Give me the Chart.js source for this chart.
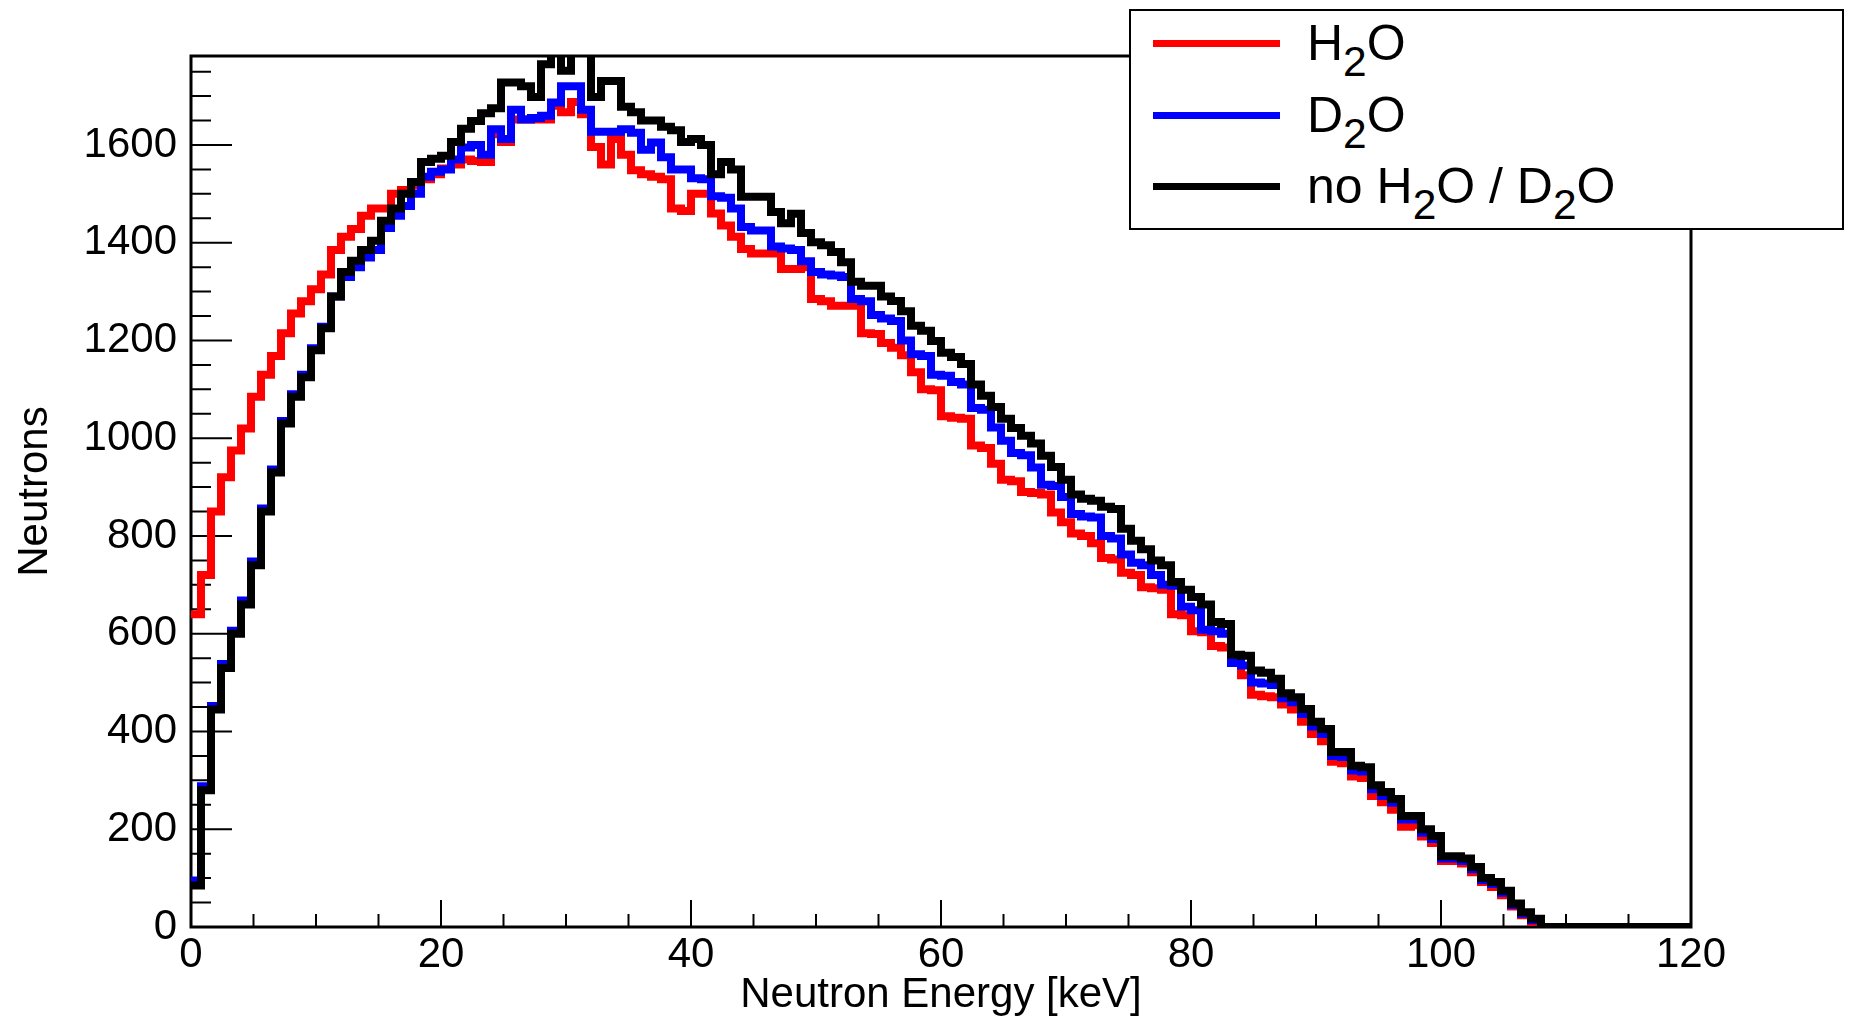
<!DOCTYPE html>
<html>
<head>
<meta charset="utf-8">
<title>Neutron energy spectrum</title>
<script src="https://cdn.jsdelivr.net/npm/chart.js@4.4.1/dist/chart.umd.min.js"></script>
<style>
  html, body { margin: 0; padding: 0; background: #fff; }
  #wrap { position: relative; width: 1854px; height: 1030px; }
  #chart { position: absolute; left: 0; top: 0; }
  #legend {
    position: absolute; left: 1129px; top: 9px; width: 711px; height: 217px;
    border: 2px solid #000; background: #fff;
    font-family: 'Liberation Sans', Arial, sans-serif; font-size: 50px; color: #000;
  }
  .swatch { position: absolute; left: 22px; width: 127px; height: 7px; }
  .label { position: absolute; left: 176px; white-space: nowrap; line-height: 50px; }
  .label sub { font-size: 0.85em; vertical-align: -16px; line-height: 0; }
</style>
</head>
<body>
<div id="wrap">
  <canvas id="chart" width="1854" height="1030"></canvas>
  <div id="legend">
    <div class="swatch" style="top:29px;background:#ff0000"></div>
    <div class="label" style="top:7px">H<sub>2</sub>O</div>
    <div class="swatch" style="top:101px;background:#0000ff"></div>
    <div class="label" style="top:79px">D<sub>2</sub>O</div>
    <div class="swatch" style="top:172px;background:#000000"></div>
    <div class="label" style="top:150px">no H<sub>2</sub>O / D<sub>2</sub>O</div>
  </div>
</div>
<script>
// histogram bins: 0.8 keV wide, starting at 0 keV
const BIN_WIDTH = 0.8;
const X_MAX = 120;
const Y_MAX = 1782;

const xTicks = [0, 20, 40, 60, 80, 100, 120];
const yTicks = [0, 200, 400, 600, 800, 1000, 1200, 1400, 1600];

const seriesNames = ['H2O', 'D2O', 'no H2O / D2O'];

const h2o = [
  640, 720, 850, 920, 975, 1020, 1085, 1130, 1168, 1215,
  1255, 1280, 1305, 1335, 1385, 1412, 1428, 1455, 1470, 1470,
  1500, 1508, 1517, 1530, 1540, 1552, 1560, 1570, 1567, 1565,
  1622, 1606, 1652, 1652, 1652, 1652, 1680, 1667, 1688, 1663,
  1596, 1560, 1612, 1580, 1548, 1540, 1535, 1530, 1470, 1465,
  1500, 1500, 1460, 1435, 1412, 1387, 1378, 1378, 1378, 1346,
  1346, 1350, 1285, 1280, 1271, 1271, 1271, 1215, 1213, 1195,
  1185, 1170, 1135, 1100, 1098, 1045, 1042, 1040, 985, 980,
  948, 915, 912, 890, 888, 885, 848, 828, 805, 800,
  785, 755, 752, 725, 720, 695, 693, 690, 640, 638,
  605, 603, 575, 572, 545, 515, 475, 472, 470, 455,
  445, 420, 395, 380, 338, 335, 308, 305, 268, 255,
  240, 205, 208, 185, 172, 135, 135, 130, 112, 92,
  82, 65, 42, 24, 10
];

const d2o = [
  95, 288, 452, 538, 606, 668, 748, 856, 936, 1035,
  1090, 1130, 1184, 1228, 1290, 1330, 1350, 1370, 1385, 1430,
  1455, 1475, 1500, 1535, 1545, 1550, 1570, 1595, 1600, 1580,
  1632, 1612, 1672, 1652, 1655, 1660, 1687, 1720, 1720, 1672,
  1627, 1627, 1627, 1632, 1625, 1590, 1605, 1575, 1550, 1550,
  1532, 1530, 1495, 1492, 1470, 1432, 1425, 1425, 1392, 1388,
  1385, 1362, 1340, 1335, 1333, 1330, 1285, 1280, 1252, 1245,
  1240, 1200, 1172, 1168, 1130, 1128, 1115, 1110, 1062, 1058,
  1022, 995, 970, 965, 940, 905, 902, 880, 845, 840,
  838, 800, 795, 762, 745, 740, 720, 700, 698, 655,
  648, 608, 605, 600, 540, 535, 500, 498, 495, 468,
  460, 436, 410, 395, 350, 348, 320, 318, 282, 268,
  254, 220, 220, 193, 180, 140, 140, 135, 118, 96,
  88, 70, 45, 27, 14
];

const noWater = [
  85, 280, 445, 530, 600, 660, 740, 850, 930, 1030,
  1085, 1125, 1180, 1225, 1290, 1340, 1363, 1385, 1404, 1445,
  1470, 1500, 1524, 1565, 1572, 1578, 1606, 1633, 1649, 1665,
  1675, 1728, 1728, 1720, 1698, 1765, 1790, 1752, 1790, 1790,
  1698, 1731, 1731, 1678, 1667, 1650, 1650, 1637, 1630, 1606,
  1612, 1600, 1540, 1565, 1550, 1494, 1494, 1494, 1463, 1440,
  1459, 1420, 1401, 1395, 1381, 1360, 1320, 1312, 1312, 1290,
  1281, 1260, 1230, 1220, 1199, 1175, 1166, 1152, 1110, 1087,
  1064, 1040, 1021, 1005, 989, 964, 941, 915, 885, 876,
  872, 860, 855, 815, 790, 773, 750, 740, 706, 690,
  675, 660, 624, 620, 557, 555, 525, 520, 508, 478,
  470, 446, 420, 405, 358, 358, 330, 327, 290, 276,
  262, 227, 227, 200, 186, 145, 145, 140, 123, 100,
  92, 74, 48, 30, 17
];

// turn bin contents into step points at the bin left edges
function histPoints(values) {
  const pts = values.map((v, i) => ({ x: i * BIN_WIDTH, y: v }));
  pts.push({ x: values.length * BIN_WIDTH, y: 0 });
  pts.push({ x: X_MAX, y: 0 });
  return pts;
}

const labelFont = { family: "'Liberation Sans', Arial, sans-serif", size: 42 };

// ROOT style frame with inward ticks
const frameAndTicks = {
  id: 'frameAndTicks',
  beforeDatasetsDraw(chart) {
    const { ctx, chartArea: a, scales: { x, y } } = chart;
    ctx.save();
    ctx.strokeStyle = '#000';
    ctx.lineWidth = 2;
    ctx.beginPath();
    for (let v = 0; v <= X_MAX; v += 5) {
      const px = x.getPixelForValue(v);
      const len = v % 20 === 0 ? 27 : 13;
      ctx.moveTo(px, a.bottom);
      ctx.lineTo(px, a.bottom - len);
    }
    for (let v = 0; v <= Y_MAX; v += 50) {
      const py = y.getPixelForValue(v);
      const len = v % 200 === 0 ? 41 : 20;
      ctx.moveTo(a.left, py);
      ctx.lineTo(a.left + len, py);
    }
    ctx.stroke();
    ctx.lineWidth = 3;
    ctx.strokeRect(a.left, a.top, a.right - a.left, a.bottom - a.top);
    ctx.restore();
  }
};

const lineStyle = {
  stepped: 'before',
  borderWidth: 8,
  pointRadius: 0,
  borderJoinStyle: 'miter',
  borderCapStyle: 'butt',
  fill: false
};

new Chart(document.getElementById('chart'), {
  type: 'line',
  data: {
    datasets: [
      { label: seriesNames[0], data: histPoints(h2o), borderColor: '#ff0000', order: 3, ...lineStyle },
      { label: seriesNames[1], data: histPoints(d2o), borderColor: '#0000ff', order: 2, ...lineStyle },
      { label: seriesNames[2], data: histPoints(noWater), borderColor: '#000000', order: 1, ...lineStyle }
    ]
  },
  options: {
    responsive: false,
    animation: false,
    devicePixelRatio: 1,
    layout: { padding: { top: 56, right: 163, bottom: 0, left: 0 } },
    plugins: { legend: { display: false }, tooltip: { enabled: false } },
    scales: {
      x: {
        type: 'linear',
        min: 0,
        max: X_MAX,
        grid: { display: false, drawTicks: false },
        border: { display: false },
        afterBuildTicks: s => { s.ticks = xTicks.map(v => ({ value: v })); },
        ticks: { padding: 3, maxRotation: 0, color: '#000', font: labelFont, callback: v => String(v) },
        title: {
          display: true, text: 'Neutron Energy [keV]', color: '#000',
          font: labelFont, padding: { top: 0, bottom: 9 }
        },
        afterFit: s => { s.height = 103; }
      },
      y: {
        min: 0,
        max: Y_MAX,
        grid: { display: false, drawTicks: false },
        border: { display: false },
        afterBuildTicks: s => { s.ticks = yTicks.map(v => ({ value: v })); },
        ticks: { padding: 14, color: '#000', font: labelFont, callback: v => String(v) },
        title: {
          display: true, text: 'Neutrons', color: '#000',
          font: labelFont, padding: { top: 10, bottom: 0 }
        },
        afterFit: s => { s.width = 191; }
      }
    }
  },
  plugins: [frameAndTicks]
});
</script>
</body>
</html>
